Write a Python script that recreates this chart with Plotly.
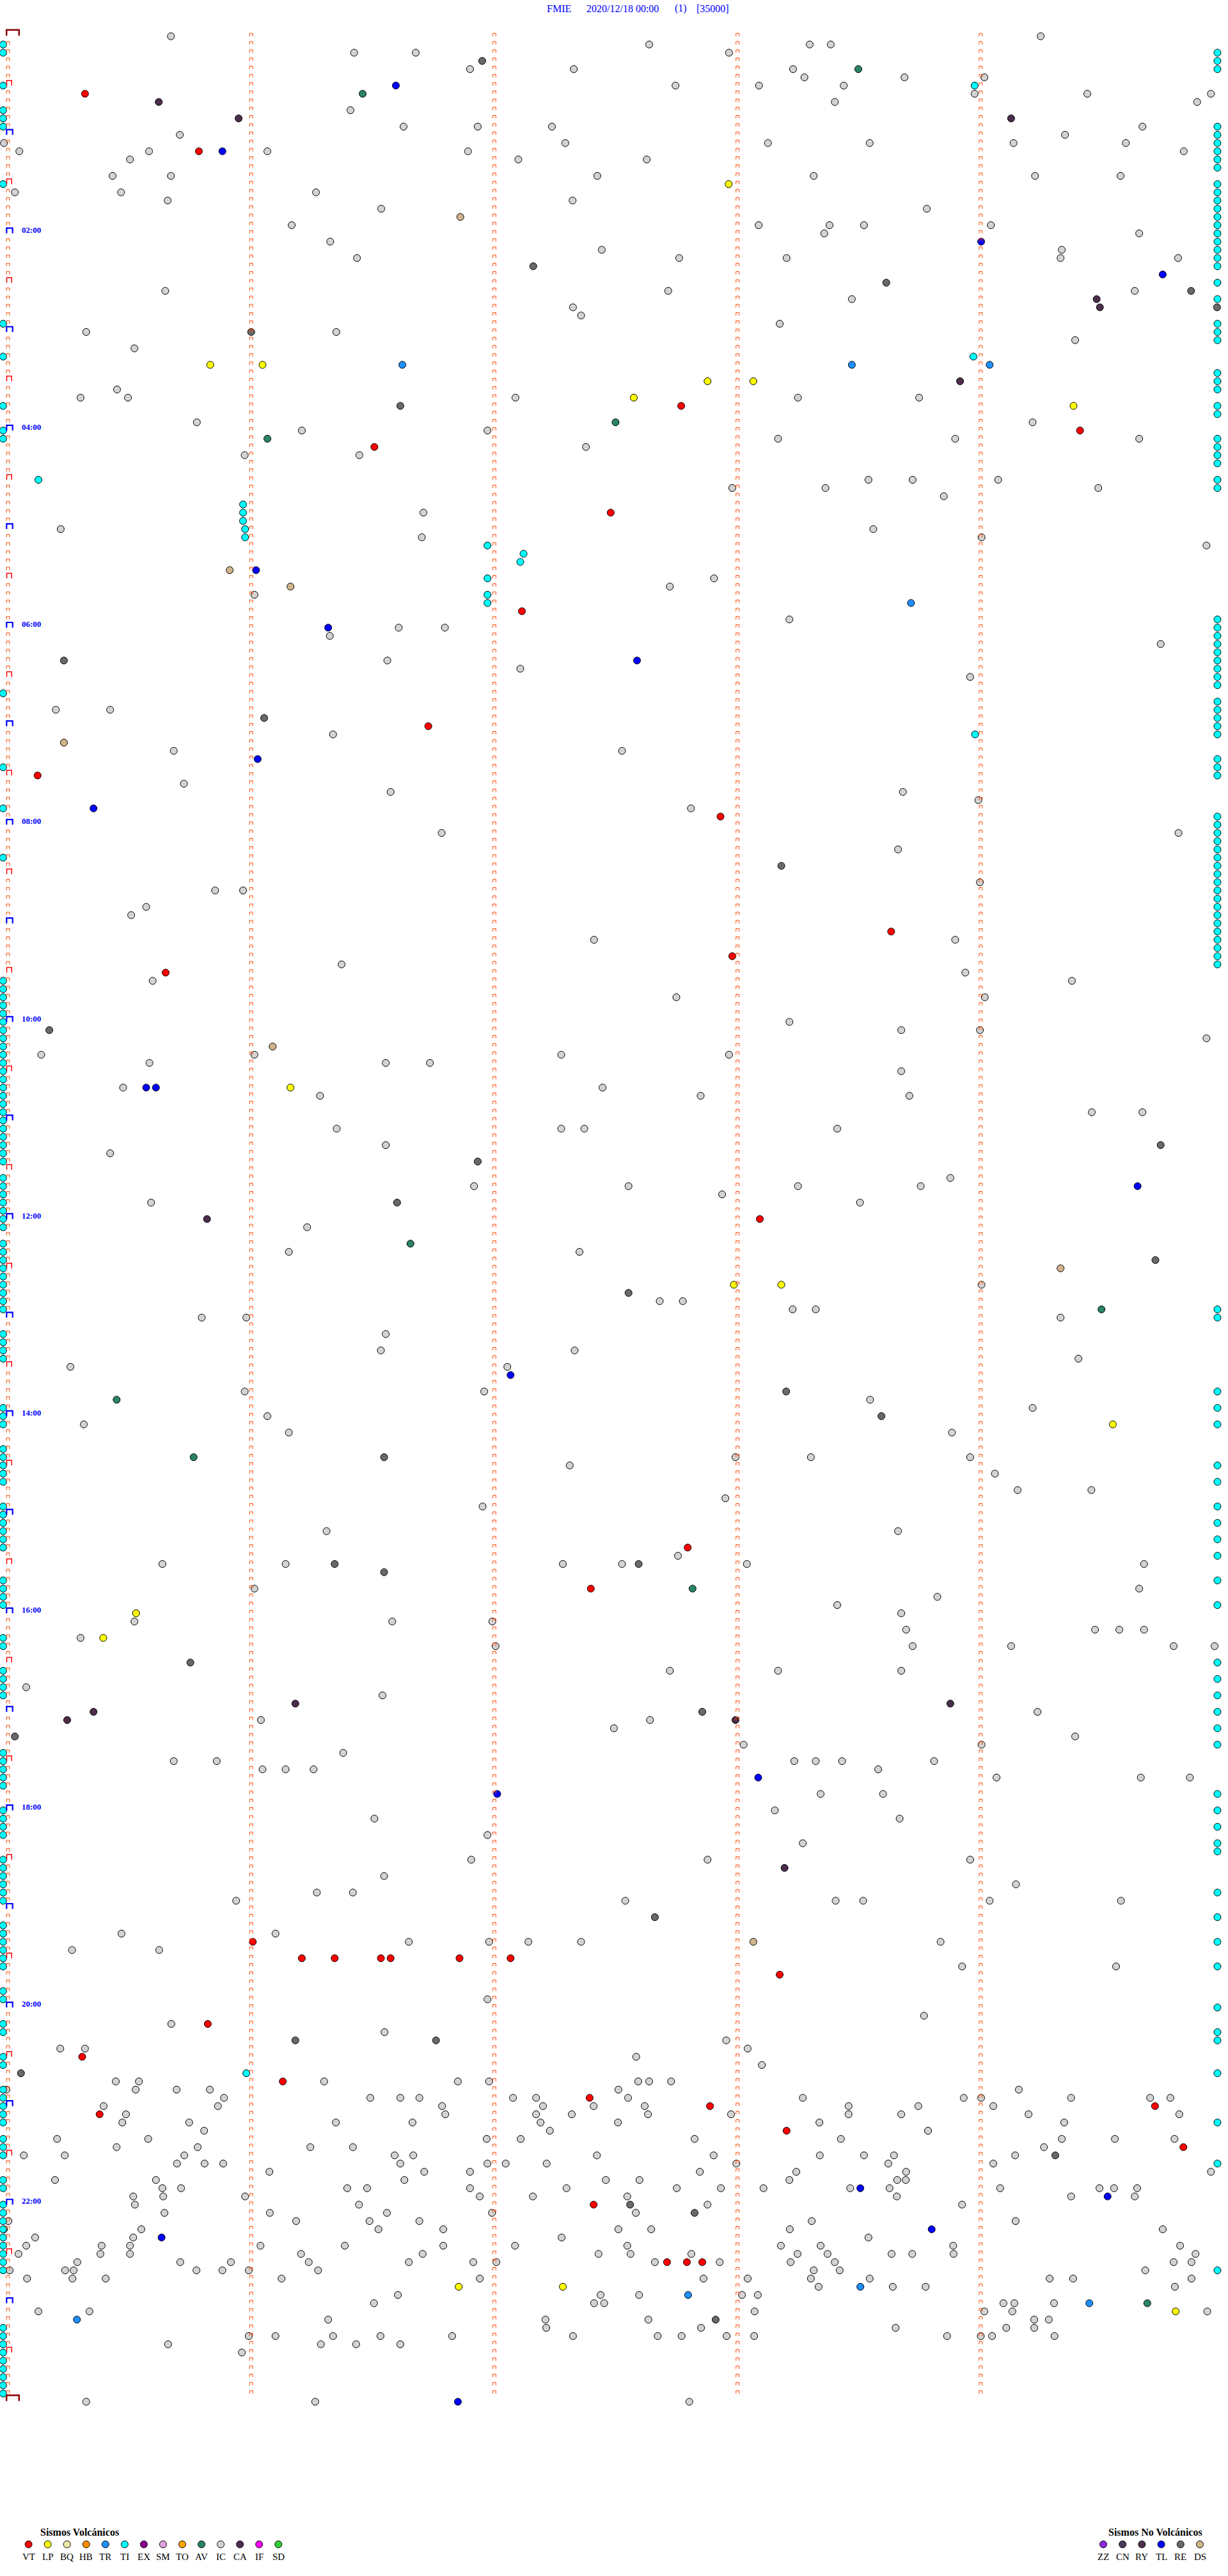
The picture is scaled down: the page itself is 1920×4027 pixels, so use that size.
import plotly.graph_objects as go

# ---------------- figure geometry (pixels) ----------------
W, H = 1920, 4027
X0_PX = 12.5          # pixel x of second 0 in a row
PX_PER_SEC = 6.337    # 60 s = 380.2 px
Y0_PX = 56.7          # pixel y of row 0 (00:00)
PX_PER_ROW = 12.84    # one row = 5 minutes


def X(px):
    return (px - X0_PX) / PX_PER_SEC


def Y(py):
    return (py - Y0_PX) / PX_PER_ROW


def dX(px):
    return px / PX_PER_SEC


def dY(py):
    return py / PX_PER_ROW


# ---------------- texts ----------------
title_station = "FMIE"
title_date = "2020/12/18 00:00"
title_count = "(1)"
title_scale = "[35000]"
time_labels = ["02:00", "04:00", "06:00", "08:00", "10:00", "12:00",
               "14:00", "16:00", "18:00", "20:00", "22:00"]
minute_columns = [0, 60, 120, 180, 240]     # seconds in each 5-minute row
n_rows = 288                                # 24 h of 5-minute rows

volc_types = ["VT", "LP", "BQ", "HB", "TR", "TI", "EX", "SM", "TO", "AV", "IC", "CA", "IF", "SD"]
volc_colors = ["#FF0000", "#FFFF00", "#EEE8AA", "#FF8C00", "#1E90FF", "#00FFFF", "#8B008B",
               "#DDA0DD", "#FFA500", "#2A8468", "#D3D3D3", "#4B2E4B", "#FF00FF", "#32CD32"]
nonvolc_types = ["ZZ", "CN", "RY", "TL", "RE", "DS"]
nonvolc_colors = ["#8A2BE2", "#483A5A", "#4F2F4F", "#0000FF", "#696969", "#D2B48C"]

# ---------------- events: row index (5-min rows) and seconds into the row ----------------
IC_rows = [0, 1, 2, 4, 5, 6, 7, 8, 9, 11, 12, 13, 14, 15, 17, 19, 20, 21, 23, 24, 25, 26, 27,
           31, 32, 33, 34, 35, 36, 37, 38, 43, 44, 47, 48, 49, 50, 51, 54, 55, 56, 58, 60, 61, 62,
           66, 67, 68, 71, 72, 73, 74, 76, 77, 78, 82, 85, 87, 91, 92, 93, 94, 97, 99, 103, 104,
           106, 107, 110, 113, 114, 115, 117, 120, 121, 122, 124, 125, 126, 128, 129, 131, 133,
           135, 136, 139, 140, 141, 142, 145, 148, 152, 154, 155, 156, 158, 160, 161, 162, 165,
           166, 167, 168, 169, 170, 173, 174, 175, 177, 178, 179, 182, 185, 186, 189, 190, 191,
           192, 193, 194, 195, 196, 199, 201, 202, 204, 205, 206, 207, 208, 209, 210, 211, 212,
           214, 216, 217, 219, 220, 222, 224, 225, 226, 227, 231, 232, 233, 235, 239, 241, 242,
           243, 244, 245, 246, 247, 249, 250, 251, 252, 253, 254, 255, 256, 257, 258, 259, 260,
           261, 262, 263, 264, 265, 266, 267, 268, 269, 270, 271, 272, 273, 274, 275, 276, 277,
           278, 279, 280, 281, 282, 288]
IC_secs = [
    [40.2, 254.8], [158.2, 197.8, 203.0], [85.4, 100.6, 177.9], [114.0, 139.6, 193.7],
    [196.5, 221.2, 240.9], [164.7, 185.3, 206.2], [238.5, 266.3, 296.8], [204.0, 293.4], [84.5],
    [97.6, 115.9, 134.2, 279.9], [42.4, 260.8], [-1.0, 137.5, 187.5, 212.6, 248.1, 275.8],
    [2.8, 34.8, 64.0, 113.5, 290.1], [30.1, 125.9, 157.6], [25.8, 40.2, 145.4, 198.8, 253.4, 274.5],
    [1.7, 27.9, 76.0], [39.4, 139.3], [92.1, 226.7], [70.0, 185.2, 202.7, 211.2, 242.5],
    [201.4, 279.1], [79.5], [146.5, 260.0], [86.1, 165.6, 192.1, 259.7, 288.7],
    [38.8, 162.9, 278.0], [208.2], [139.4], [141.4], [190.4], [19.3, 81.0], [263.3], [31.2],
    [26.9], [17.9, 29.6, 125.2, 194.9, 224.8], [46.6, 252.8], [72.5, 118.3], [190.0, 233.7, 279.1],
    [142.6], [58.4, 86.7], [212.3, 223.2, 244.3], [178.7, 201.7, 269.0], [230.9], [102.5],
    [13.0, 213.5], [102.1, 240.2], [295.7],
    [174.2], [163.3], [60.8], [192.8], [96.4, 107.8], [79.4], [284.4], [93.6], [126.4], [237.4],
    [11.8, 25.2], [80.2], [40.9, 151.5], [43.4], [94.4, 220.8], [239.4], [168.5], [107.0, 288.8],
    [219.6], [239.8], [51.1, 58.0],
    [34.1], [30.4], [144.6, 233.7], [82.3], [236.2], [35.7, 262.5], [164.9, 241.0], [192.8],
    [220.4, 239.8], [295.7], [8.2, 60.8, 136.5, 177.9], [34.9, 93.2, 104.1], [220.4],
    [28.4, 146.7], [77.0, 170.9, 222.4], [267.4, 279.9], [81.1, 136.5, 142.2, 204.6],
    [93.2], [25.2], [232.5], [115.0, 153.1, 194.9, 225.2], [176.2], [35.3, 210.2], [73.8],
    [69.3, 141.0], [240.2], [160.8, 166.5], [193.6, 199.3], [47.8, 58.8, 259.7], [93.2],
    [92.0, 139.8], [264.1], [15.4, 123.2], [58.4, 117.5],
    [212.7], [252.8], [64.0], [18.7], [69.3, 232.9], [179.5, 198.1, 237.4], [138.6], [243.5],
    [249.1, 267.3], [177.0], [117.1], [78.6, 219.6], [165.3],
    [38.1, 68.5, 136.9, 151.5, 182.3, 280.3], [60.8, 279.1], [229.3], [204.6],
    [220.4], [31.2, 94.8, 119.5], [221.6, 268.2, 274.2, 280.3], [17.9],
    [120.3, 223.2, 247.5, 287.6, 297.7], [163.3, 190.0, 220.4], [4.5], [92.4], [254.0],
    [62.4, 158.4], [149.5], [263.3], [181.5, 240.2], [82.7],
    [40.9, 51.5, 194.0, 199.3, 205.8, 228.5], [62.8, 68.5, 75.4, 214.7], [243.9, 279.5, 291.6],
    [200.5, 215.9], [189.2], [90.4, 220.0], [118.3], [196.1], [114.3, 172.6, 237.4], [92.8],
    [248.7], [76.2, 85.1], [56.3, 152.3, 204.2, 211.0, 242.2, 274.6], [28.0, 66.0],
    [98.9, 118.7, 128.4, 141.4, 230.1], [15.8, 37.3], [235.4, 273.4], [118.3], [226.0], [40.3],
    [92.9], [177.2], [12.9, 19.0, 182.5], [155.0], [186.0],
    [26.6, 32.3, 78.0, 111.0, 118.7, 155.5, 158.2, 163.6],
    [-0.4, 31.5, 41.6, 49.8, 150.6, 249.4],
    [53.3, 89.4, 96.8, 101.5, 124.6, 130.3, 153.0, 196.1, 235.8, 240.1, 262.3, 281.8, 286.8],
    [23.6, 51.8, 107.1, 132.0, 144.5, 157.1, 207.4, 224.6, 243.1],
    [29.1, 107.9, 130.3, 139.1, 157.9, 178.4, 207.4, 220.4, 251.8, 289.0],
    [28.2, 44.7, 80.9, 99.8, 131.4, 150.5, 200.2, 260.6],
    [48.4, 133.7, 227.0],
    [12.1, 34.6, 118.1, 126.5, 169.4, 205.5, 260.0, 273.1, 287.8],
    [26.8, 46.8, 74.6, 85.1, 255.6],
    [3.9, 14.0, 43.5, 95.4, 100.0, 145.3, 174.1, 200.3, 211.2, 218.6, 248.5],
    [41.7, 48.5, 53.1, 96.8, 118.3, 122.8, 132.9, 179.7, 217.2, 243.1],
    [64.5, 102.7, 114.0, 170.7, 194.5, 221.6, 296.8],
    [11.6, 36.5, 97.8, 147.5, 155.8, 192.8, 219.4, 221.5],
    [38.1, 42.7, 83.7, 88.6, 114.0, 137.8, 165.0, 175.9, 186.4, 207.8, 217.5, 244.8, 269.3, 272.9, 278.6],
    [30.9, 38.3, 58.5, 116.4, 129.5, 152.8, 219.3, 262.3, 278.0],
    [31.3, 86.6, 172.6, 235.4],
    [38.6, 64.6, 93.5, 119.4, 154.9],
    [0.1, 71.1, 89.2, 101.5, 198.3, 248.6],
    [-1.0, 32.9, 91.4, 107.4, 150.6, 158.7, 192.9, 284.9],
    [6.7, 30.9, 136.6, 212.3],
    [4.5, 23.1, 30.1, 62.3, 83.1, 107.4, 125.1, 152.8, 190.7, 200.5, 233.2, 289.2],
    [2.6, 22.8, 30.1, 72.3, 102.3, 145.7, 153.6, 168.6, 194.8, 202.2, 218.0, 223.1, 233.3, 293.0],
    [17.1, 42.5, 55.0, 74.2, 98.9, 114.8, 120.5, 159.6, 175.6, 193.1, 204.0, 287.6, 292.0],
    [0.4, 14.1, 16.2, 46.5, 52.9, 59.4, 76.5, 198.8, 205.2, 280.6],
    [4.7, 15.9, 24.1, 67.5, 116.4, 171.6, 182.5, 198.1, 212.6, 257.0, 262.8, 292.0],
    [200.0, 218.3, 226.4, 287.9],
    [96.2, 146.2, 155.7, 181.1, 185.0],
    [90.3, 144.6, 147.1, 245.6, 248.3, 258.1],
    [7.5, 20.1, 184.2, 240.9, 247.8, 295.9],
    [79.0, 132.6, 158.0, 253.2, 256.8],
    [132.8, 171.0, 219.0, 246.3, 253.2],
    [59.4, 66.0, 80.2, 91.9, 109.6, 139.4, 160.3, 166.2, 177.3, 184.1, 231.7, 240.0, 242.8, 258.2],
    [39.5, 77.2, 85.9, 96.8],
    [57.7],
    [19.3, 75.8, 168.1],
]

VT_rows = [7, 14, 45, 48, 50, 58, 70, 84, 90, 95, 109, 112, 114, 144, 184, 189, 232, 234, 236,
           242, 246, 249, 251, 252, 253, 255, 257, 264, 271]
VT_secs = [[19.0], [47.1], [166.1], [264.5], [90.4], [148.7], [126.8], [103.7], [7.3], [175.8],
           [217.9], [178.7], [38.9], [185.5], [167.7], [143.8], [60.4],
           [72.5, 80.6, 92.0, 94.4, 111.4, 124.0], [190.4], [49.3], [18.3], [67.8], [143.5],
           [173.2, 283.0], [22.6], [192.1], [290.0], [144.5], [162.6, 167.5, 171.3]]

LP_rows = [18, 40, 42, 44, 45, 128, 152, 169, 192, 195, 274, 277]
LP_secs = [[177.8], [49.9, 62.8], [172.6, 183.9], [154.4], [262.9], [69.7], [179.1, 190.8],
           [272.6], [31.6], [23.5], [111.2, 136.9], [288.1]]

TR_rows = [40, 69, 274, 275, 276, 278]
TR_secs = [[97.3, 208.2, 242.2], [222.8], [210.3], [167.8], [266.8], [17.0]]

AV_rows = [4, 7, 47, 49, 147, 155, 166, 173, 189, 276]
AV_secs = [[209.8], [87.5], [149.9], [64.0], [99.3], [269.8], [26.8], [45.8], [168.9], [281.1]]

CA_rows = [8, 10, 32, 33, 42, 144, 203, 204, 205, 223]
CA_secs = [[37.2], [56.9, 247.5], [268.6], [269.4], [234.9], [49.1], [70.9, 232.5], [21.1],
           [14.6, 179.5], [191.6]]

RE_rows = [3, 28, 30, 31, 33, 36, 45, 76, 83, 101, 121, 135, 137, 142, 149, 153, 165, 168, 173,
           186, 187, 198, 204, 207, 229, 244, 248, 258, 264, 265, 278]
RE_secs = [[117.0], [129.6], [216.7], [291.9], [298.3], [60.0], [96.8], [13.8], [63.2], [190.8],
           [10.2], [284.4], [115.9], [96.0], [283.1], [153.1], [192.0], [215.5], [92.8],
           [80.6, 155.6], [92.8], [45.0], [171.3], [1.7], [159.6], [70.9, 105.6], [3.2], [258.4],
           [153.5], [169.4], [174.6]]

TL_rows = [6, 14, 25, 29, 65, 72, 76, 88, 94, 128, 140, 163, 212, 214, 262, 263, 267, 268, 288]
TL_secs = [[95.7], [52.9], [240.1], [284.9], [61.2], [79.0], [155.2], [61.6], [21.1],
           [34.1, 36.5], [278.7], [124.0], [185.1], [120.7], [210.3], [271.3], [227.9], [37.9],
           [111.0]]

DS_rows = [22, 65, 67, 86, 123, 150, 232]
DS_secs = [[111.6], [54.7], [69.7], [13.8], [65.3], [259.7], [183.9]]

TI_rows = [6, 39, 54, 57, 58, 59, 60, 61, 62, 63, 64, 66, 68, 69, 85, 248]
TI_secs = [[238.5], [238.2], [7.5], [58.0], [58.0], [58.0], [58.5], [58.5], [118.3], [127.2],
           [126.4], [118.3], [118.3], [118.3], [238.6], [58.8]]

# TI events drawn against the left / right edge of their row
TI_left_sec = -1.2
TI_left_rows = [1, 2, 6, 9, 10, 11, 18, 35, 39, 45, 48, 49, 80, 89, 94, 100,
                115, 116, 117, 118, 119, 120, 121, 122, 123, 124, 125, 126, 127, 128, 129, 130,
                131, 132, 133, 134, 135, 136, 137, 139, 140, 141, 142, 143, 144, 145,
                147, 148, 149, 150, 151, 152, 153, 154, 155, 158, 159, 160, 161, 167, 168, 169,
                172, 173, 174, 175, 176, 179, 180, 181, 182, 183, 184, 188, 189, 190, 191, 195, 196,
                199, 200, 201, 202, 209, 210, 211, 212, 213, 216, 217, 218, 219,
                222, 223, 224, 225, 226, 227, 230, 231, 232, 233, 234, 235, 238, 239,
                242, 243, 246, 247, 250, 251, 252, 253, 254, 256, 257, 258, 261, 262,
                264, 265, 266, 267, 268, 269, 270, 271, 272,
                279, 280, 281, 282, 283, 284, 285, 286, 287]
TI_right_sec = 298.4
TI_right_rows = [2, 3, 4, 11, 12, 13, 14, 15, 16, 18, 19, 20, 21, 22, 23, 24, 25, 26, 27, 28,
                 30, 32, 35, 36, 37, 41, 42, 43, 45, 46, 49, 50, 51, 52, 54, 55,
                 71, 72, 73, 74, 75, 76, 77, 78, 79, 81, 82, 83, 84, 85, 88, 89, 90,
                 95, 96, 97, 98, 99, 100, 101, 102, 103, 104, 105, 106, 107, 108, 109, 110, 111,
                 112, 113, 155, 156, 165, 167, 169, 174, 176, 179, 181, 183, 185, 188, 191,
                 198, 200, 202, 204, 206, 208, 214, 216, 218, 220, 221, 226, 229, 232, 235, 240,
                 243, 244, 248, 254, 259, 272]

# ---------------- build figure ----------------
fig = go.Figure()
color_of = dict(zip(volc_types + nonvolc_types, volc_colors + nonvolc_colors))
MARKER_SIZE = 11


def flatten(rows, secs):
    xs, ys = [], []
    for r, ss in zip(rows, secs):
        for s in ss:
            xs.append(s)
            ys.append(r)
    return xs, ys


def add_events(xs, ys, etype):
    fig.add_trace(go.Scatter(
        x=xs, y=ys, mode="markers", name=etype, hoverinfo="skip",
        marker=dict(size=MARKER_SIZE, color=color_of[etype], line=dict(color="black", width=1))))


event_sets = [("IC", IC_rows, IC_secs), ("RE", RE_rows, RE_secs), ("DS", DS_rows, DS_secs),
              ("CA", CA_rows, CA_secs), ("AV", AV_rows, AV_secs), ("TR", TR_rows, TR_secs),
              ("LP", LP_rows, LP_secs), ("TL", TL_rows, TL_secs), ("VT", VT_rows, VT_secs)]
for etype, rows, secs in event_sets:
    xs, ys = flatten(rows, secs)
    add_events(xs, ys, etype)

ti_x, ti_y = flatten(TI_rows, TI_secs)
ti_x += [TI_left_sec] * len(TI_left_rows) + [TI_right_sec] * len(TI_right_rows)
ti_y += TI_left_rows + TI_right_rows
add_events(ti_x, ti_y, "TI")


# ---------------- minute columns of bracket glyphs ----------------
def add_glyphs(points, left, right, top, bottom, color, width):
    xs, ys = [], []
    for cx, r in points:
        l_ = cx + dX(left)
        r_ = cx + dX(right)
        t_ = r + dY(top)
        b_ = r + dY(bottom)
        xs += [l_, l_, r_, r_, None]
        ys += [b_, t_, t_, b_, None]
    fig.add_trace(go.Scatter(x=xs, y=ys, mode="lines", hoverinfo="skip",
                             line=dict(color=color, width=width)))


small_pts, half_pts, hour_pts, day_pts = [], [], [], []
for c in minute_columns:
    for r in range(n_rows):
        if c == minute_columns[0]:
            if r == 0:
                day_pts.append((c, r))
            elif r % 12 == 0:
                hour_pts.append((c, r))
            elif r % 6 == 0:
                half_pts.append((c, r))
            else:
                small_pts.append((c, r))
        else:
            small_pts.append((c, r))
day_pts.append((minute_columns[0], n_rows))

add_glyphs(small_pts, -2.4, 2.4, -4.6, 0.0, "#FF4500", 1)
add_glyphs(half_pts, -2.0, 5.7, -8.0, 0.0, "#FF0000", 1.5)
add_glyphs(hour_pts, -2.2, 7.2, -8.2, 0.0, "#0000FF", 2.2)
add_glyphs(day_pts, -2.3, 17.3, -10.0, -1.0, "#8B0000", 2.5)

# ---------------- annotations ----------------
SERIF = "Liberation Serif, Times New Roman, serif"
ann = []
for lab in time_labels:
    row = int(lab[:2]) * 12
    ann.append(dict(x=X(32), y=row + dY(-5.5), xref="x", yref="y", text="<b>%s</b>" % lab,
                    showarrow=False, xanchor="left", yanchor="middle",
                    font=dict(family=SERIF, size=13, color="#0000FF")))

for txt, px in [(title_station, 853), (title_date, 915), (title_count, 1053), (title_scale, 1087)]:
    ann.append(dict(x=px / W, y=1 - 13 / H, xref="paper", yref="paper", text=txt,
                    showarrow=False, xanchor="left", yanchor="middle",
                    font=dict(family=SERIF, size=16, color="#0000FF")))

# legend blocks
LEG_MARK_Y, LEG_LAB_Y, LEG_HEAD_Y = 3977.5, 3997, 3958
legend_blocks = [("Sismos Volcánicos", 124, 44.6, 30.05, volc_types),
                 ("Sismos No Volcánicos", 1806, 1725.0, 30.2, nonvolc_types)]
for head, head_x, x0, step, types in legend_blocks:
    ann.append(dict(x=head_x / W, y=1 - LEG_HEAD_Y / H, xref="paper", yref="paper",
                    text="<b>%s</b>" % head, showarrow=False, xanchor="center", yanchor="middle",
                    font=dict(family=SERIF, size=16, color="black")))
    lx = [x0 + step * i for i in range(len(types))]
    fig.add_trace(go.Scatter(
        x=[X(p) for p in lx], y=[Y(LEG_MARK_Y)] * len(types), mode="markers", hoverinfo="skip",
        marker=dict(size=MARKER_SIZE, color=[color_of[t] for t in types],
                    line=dict(color="black", width=1))))
    for p, t in zip(lx, types):
        ann.append(dict(x=p / W, y=1 - LEG_LAB_Y / H, xref="paper", yref="paper", text=t,
                        showarrow=False, xanchor="center", yanchor="middle",
                        font=dict(family=SERIF, size=15, color="black")))

fig.update_layout(
    width=W, height=H, autosize=False,
    margin=dict(l=0, r=0, t=0, b=0, pad=0),
    paper_bgcolor="white", plot_bgcolor="white",
    showlegend=False,
    xaxis=dict(range=[X(0), X(W)], visible=False, fixedrange=True),
    yaxis=dict(range=[Y(H), Y(0)], visible=False, fixedrange=True),
    annotations=ann,
)

fig.write_html("out.html", config={"displayModeBar": False},
               post_script="document.body.style.margin='0px';document.body.style.padding='0px';")
